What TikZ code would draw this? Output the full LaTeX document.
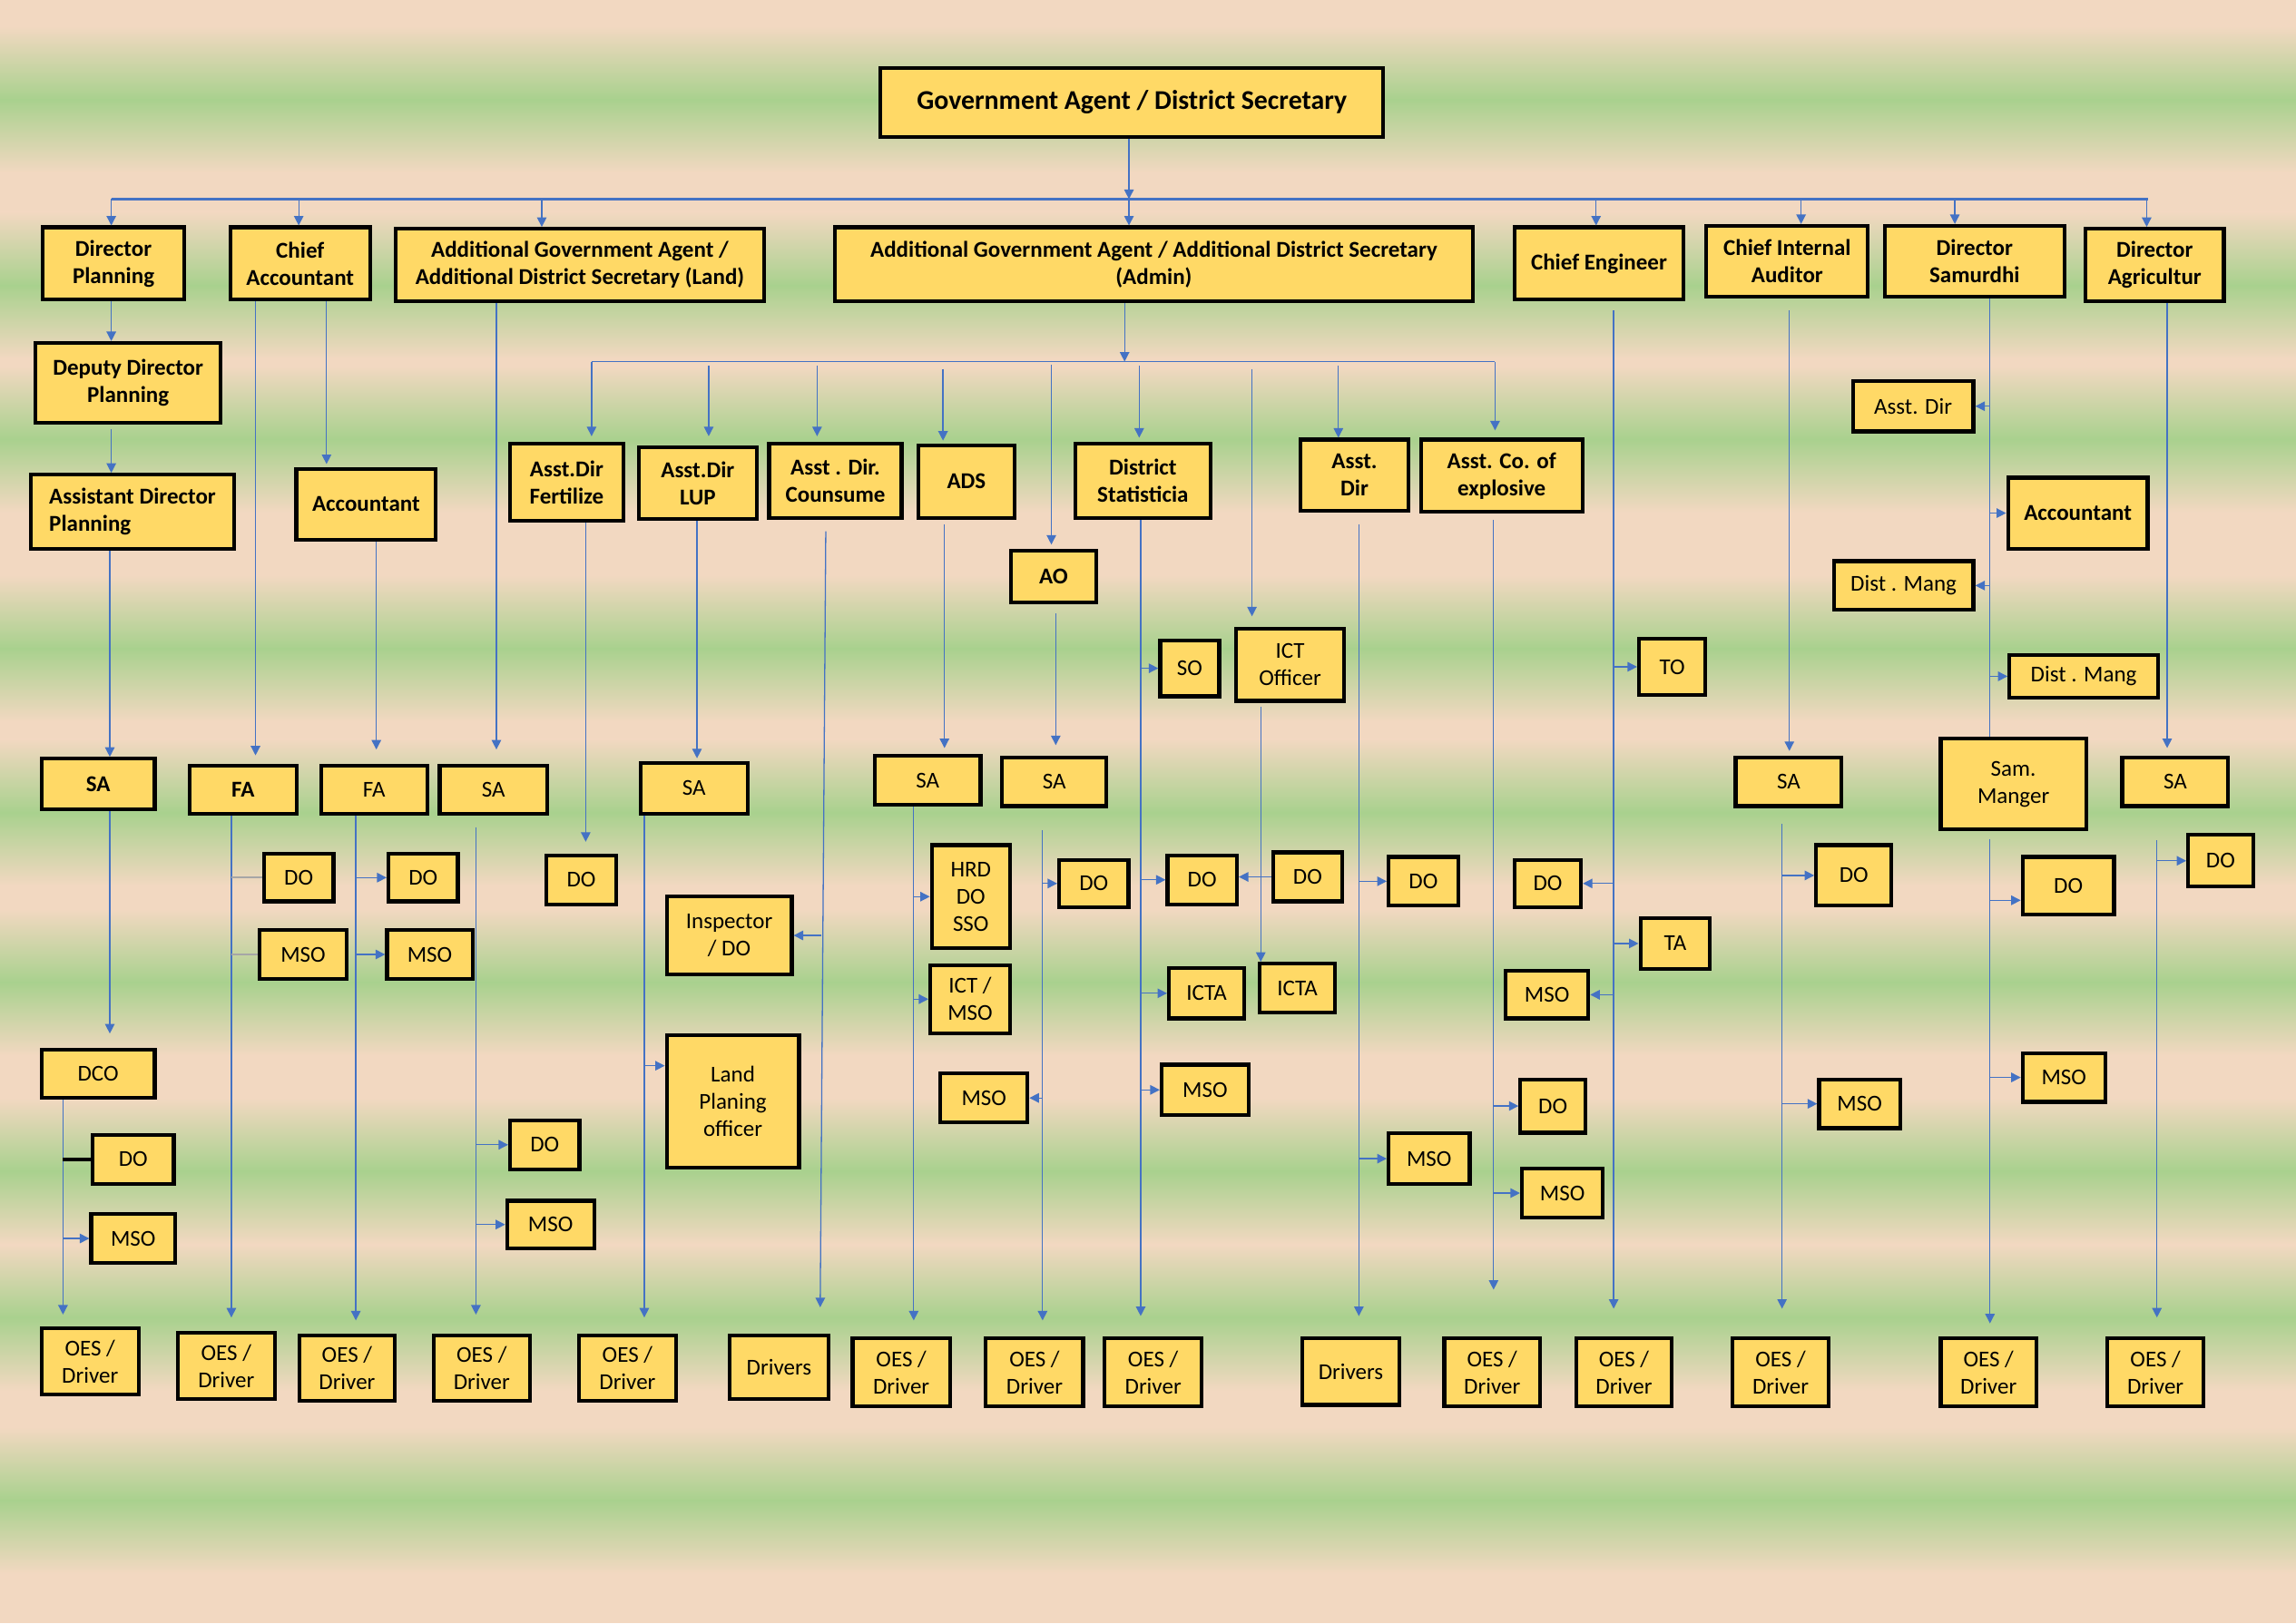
\documentclass[tikz,border=0pt]{standalone}
\usepackage{fontspec}
\setmainfont{Carlito}
\usetikzlibrary{arrows.meta}
\definecolor{peach}{HTML}{F2D8C1}
\definecolor{leaf}{HTML}{A9D18E}
\definecolor{boxfill}{HTML}{FFD966}
\definecolor{lineblue}{HTML}{4472C4}
\definecolor{greyline}{HTML}{A6A6A6}
\newcommand\bx[7]{\node[#6, minimum width={(#4)-(#2)-2.6}, minimum height={(#5)-(#3)-2.6}] (#1) at ({((#2)+(#4))/2},{((#3)+(#5))/2}) {#7};}
\tikzset{
  box/.style={draw=black, line width=2.6pt, fill=boxfill, inner sep=1pt, align=center, font=\fontsize{15.5}{18.6}\selectfont},
  bbox/.style={box, font=\fontsize{15.5}{18.6}\selectfont\bfseries},
  gabox/.style={box, font=\fontsize{18.5}{22}\selectfont\bfseries},
  ln/.style={draw=lineblue, line width=0.8pt},
  arr/.style={ln, -{Triangle[length=6.5pt,width=6.5pt]}},
  greyln/.style={draw=greyline, line width=1.3pt},
  blackln/.style={draw=black, line width=2.6pt}
}
\begin{document}
\begin{tikzpicture}[x=1pt,y=-1pt]
\useasboundingbox (0,0) rectangle (1568,1109);
% background stripes
\fill[peach] (0,0) rectangle (1568,1109);
\foreach \c in {68,195,300,443,555,671,800,900,1025} {
  \shade[top color=peach,bottom color=leaf] (0,\c-50) rectangle (1568,\c);
  \shade[top color=leaf,bottom color=peach] (0,\c) rectangle (1568,\c+50);
}
% ---------- nodes ----------
\bx{ga}{600}{45}{946}{95}{gabox}{Government Agent / District Secretary}
\bx{dp}{28}{154}{127}{206}{bbox}{Director\\Planning}
\bx{ca}{156}{154}{254}{206}{bbox}{Chief\\Accountant}
\bx{agal}{269}{155}{523}{207}{bbox}{Additional Government Agent /\\Additional District Secretary (Land)}
\bx{agaa}{569}{154}{1007}{207}{bbox}{Additional Government Agent / Additional District Secretary\\(Admin)}
\bx{ce}{1033}{154}{1151}{206}{bbox}{Chief Engineer}
\bx{cia}{1164}{153}{1277}{204}{bbox}{Chief Internal\\Auditor}
\bx{dsam}{1286}{153}{1411}{204}{bbox}{Director\\Samurdhi}
\bx{dag}{1423}{155}{1520}{207}{bbox}{Director\\Agricultur}
\bx{ddp}{23}{233}{152}{290}{bbox}{Deputy Director\\Planning}
\bx{adp}{20}{323}{161}{376}{bbox,align=left}{Assistant Director\\Planning}
\bx{acc1}{201}{319}{299}{370}{bbox}{Accountant}
\bx{fert}{347}{302}{427}{357}{bbox}{Asst.Dir\\Fertilize}
\bx{lup}{435}{304}{518}{356}{bbox}{Asst.Dir\\LUP}
\bx{cns}{524}{302}{617}{355}{bbox}{Asst . Dir.\\Counsume}
\bx{ads}{626}{303}{694}{355}{bbox}{ADS}
\bx{dst}{733}{302}{828}{355}{bbox}{District\\Statisticia}
\bx{asd}{887}{299}{963}{350}{bbox}{Asst.\\Dir}
\bx{aco}{969}{299}{1082}{351}{bbox}{Asst. Co. of\\explosive}
\bx{ao}{689}{375}{750}{413}{bbox}{AO}
\bx{so}{791}{436}{834}{477}{box}{SO}
\bx{icto}{843}{428}{919}{480}{box}{ICT\\Officer}
\bx{to}{1118}{435}{1166}{476}{box}{TO}
\bx{sasd}{1264}{259}{1349}{296}{box}{Asst. Dir}
\bx{sacc}{1370}{325}{1468}{376}{bbox}{Accountant}
\bx{sdma}{1251}{382}{1349}{418}{box}{Dist . Mang}
\bx{sdmb}{1371}{446}{1475}{478}{box}{Dist . Mang}
% SA row
\bx{saa}{27}{517}{107}{554}{bbox}{SA}
\bx{faa}{128}{522}{204}{557}{bbox}{FA}
\bx{fab}{218}{522}{293}{557}{box}{FA}
\bx{sab}{299}{522}{375}{557}{box}{SA}
\bx{sac}{436}{520}{512}{557}{box}{SA}
\bx{sad}{596}{515}{671}{551}{box}{SA}
\bx{sae}{683}{516}{757}{552}{box}{SA}
\bx{saf}{1184}{516}{1259}{552}{box}{SA}
\bx{samm}{1324}{503}{1426}{568}{box}{Sam.\\Manger}
\bx{sag}{1448}{516}{1523}{552}{box}{SA}
% lower boxes
\bx{doa}{179}{582}{229}{617}{box}{DO}
\bx{msoa}{176}{634}{238}{670}{box}{MSO}
\bx{dob}{264}{582}{314}{617}{box}{DO}
\bx{msob}{263}{634}{324}{670}{box}{MSO}
\bx{doc}{372}{583}{422}{619}{box}{DO}
\bx{insp}{454}{611}{542}{667}{box}{Inspector\\/ DO}
\bx{lpo}{454}{706}{547}{799}{box}{Land\\Planing\\officer}
\bx{hrd}{635}{576}{691}{649}{box}{HRD\\DO\\SSO}
\bx{ictm}{634}{658}{691}{707}{box}{ICT /\\MSO}
\bx{dod}{722}{586}{772}{621}{box}{DO}
\bx{msoc}{641}{732}{703}{768}{box}{MSO}
\bx{doe}{796}{583}{846}{619}{box}{DO}
\bx{dof}{868}{581}{918}{617}{box}{DO}
\bx{ictaa}{797}{660}{851}{697}{box}{ICTA}
\bx{ictab}{859}{657}{913}{693}{box}{ICTA}
\bx{msod}{792}{726}{854}{763}{box}{MSO}
\bx{dog}{947}{584}{997}{620}{box}{DO}
\bx{msoe}{947}{773}{1005}{810}{box}{MSO}
\bx{doh}{1037}{736}{1084}{775}{box}{DO}
\bx{msof}{1038}{797}{1096}{833}{box}{MSO}
\bx{doi}{1033}{586}{1081}{621}{box}{DO}
\bx{ta}{1119}{626}{1169}{663}{box}{TA}
\bx{msog}{1027}{662}{1086}{697}{box}{MSO}
\bx{doj}{1239}{576}{1293}{620}{box}{DO}
\bx{msoh}{1241}{736}{1299}{772}{box}{MSO}
\bx{dok}{1380}{584}{1445}{626}{box}{DO}
\bx{msoi}{1380}{718}{1439}{754}{box}{MSO}
\bx{dol}{1493}{569}{1540}{607}{box}{DO}
\bx{dco}{27}{716}{107}{751}{box}{DCO}
\bx{dom}{62}{774}{120}{810}{box}{DO}
\bx{msoj}{61}{828}{121}{864}{box}{MSO}
\bx{don}{347}{764}{397}{800}{box}{DO}
\bx{msok}{345}{819}{407}{854}{box}{MSO}
% bottom row
\bx{oesa}{27}{906}{96}{954}{box}{OES /\\Driver}
\bx{oesb}{120}{909}{189}{957}{box}{OES /\\Driver}
\bx{oesc}{203}{911}{271}{958}{box}{OES /\\Driver}
\bx{oesd}{295}{911}{363}{958}{box}{OES /\\Driver}
\bx{oese}{394}{911}{463}{958}{box}{OES /\\Driver}
\bx{drva}{497}{911}{567}{957}{box}{Drivers}
\bx{oesf}{581}{913}{650}{962}{box}{OES /\\Driver}
\bx{oesg}{672}{913}{741}{962}{box}{OES /\\Driver}
\bx{oesh}{753}{913}{822}{962}{box}{OES /\\Driver}
\bx{drvb}{888}{913}{957}{961}{box}{Drivers}
\bx{oesi}{985}{913}{1053}{962}{box}{OES /\\Driver}
\bx{oesj}{1075}{913}{1143}{962}{box}{OES /\\Driver}
\bx{oesk}{1182}{913}{1250}{962}{box}{OES /\\Driver}
\bx{oesl}{1324}{913}{1392}{962}{box}{OES /\\Driver}
\bx{oesm}{1438}{913}{1506}{962}{box}{OES /\\Driver}
% ---------- connectors ----------
\coordinate (busL) at (76,136);
\coordinate (busR) at (1467,136);
\draw[ln, line width=1.6pt] (busL) -- (busR);
\draw[arr] (771,0 |- ga.south) -- (771,0 |- busL);
\foreach \xx/\nn in {76/dp,204/ca,370/agal,771/agaa,1090/ce,1230/cia,1335/dsam,1466/dag}
  \draw[arr] (\xx,0 |- busL) -- (\xx,0 |- \nn.north);
% Director Planning chain
\draw[arr] (76,0 |- dp.south) -- (76,0 |- ddp.north);
\draw[arr,shorten <=3pt] (76,0 |- ddp.south) -- (76,0 |- adp.north);
\draw[arr] (75,0 |- adp.south) -- (75,0 |- saa.north);
\draw[arr,shorten >=10pt] (75,0 |- saa.south) -- (75,0 |- dco.north);
\draw[arr,shorten >=8pt] (43,0 |- dco.south) -- (43,0 |- oesa.north);
\draw[blackln] (43,0 |- dom.west) -- (dom.west);
\draw[arr] (43,0 |- msoj.west) -- (msoj.west);
% Chief Accountant
\draw[arr,shorten >=6pt] (174.5,0 |- ca.south) -- (174.5,0 |- faa.north);
\draw[arr,shorten >=2pt] (223,0 |- ca.south) -- (223,0 |- acc1.north);
\draw[arr,shorten >=10pt] (257,0 |- acc1.south) -- (257,0 |- fab.north);
\draw[arr,shorten >=9pt] (158,0 |- faa.south) -- (158,0 |- oesb.north);
\draw[greyln] (158,0 |- doa.west) -- (doa.west);
\draw[greyln] (158,0 |- msoa.west) -- (msoa.west);
\draw[arr,shorten >=9pt] (243,0 |- fab.south) -- (243,0 |- oesc.north);
\draw[arr] (243,0 |- dob.west) -- (dob.west);
\draw[arr] (243,0 |- msob.west) -- (msob.west);
% AGA Land
\draw[arr,shorten >=10pt] (339,0 |- agal.south) -- (339,0 |- sab.north);
\draw[arr,shorten <=8pt,shorten >=13pt] (325,0 |- sab.south) -- (325,0 |- oesd.north);
\draw[arr] (325,0 |- don.west) -- (don.west);
\draw[arr] (325,0 |- msok.west) -- (msok.west);
% AGA Admin bus
\coordinate (bustL) at (404,247);
\coordinate (bustR) at (1021,247);
\draw[arr] (768,0 |- agaa.south) -- (768,0 |- bustL);
\draw[ln] (bustL) -- (bustR);
\draw[arr,shorten >=4pt] (bustL) -- (404,0 |- fert.north);
\draw[arr,shorten <=3pt,shorten >=6pt] (484,0 |- bustL) -- (484,0 |- lup.north);
\draw[arr,shorten <=3pt,shorten >=4pt] (558,0 |- bustL) -- (558,0 |- cns.north);
\draw[arr,shorten <=5pt,shorten >=2pt] (644,0 |- bustL) -- (644,0 |- ads.north);
\draw[arr,shorten <=2pt,shorten >=3pt] (718,0 |- bustL) -- (718,0 |- ao.north);
\draw[arr,shorten <=3pt,shorten >=3pt] (778,0 |- bustL) -- (778,0 |- dst.north);
\draw[arr,shorten <=5pt,shorten >=7pt] (855,0 |- bustL) -- (855,0 |- icto.north);
\draw[arr,shorten <=3pt] (914,0 |- bustL) -- (914,0 |- asd.north);
\draw[arr,shorten >=5pt] (bustR) -- (1021,0 |- aco.north);
% Fertilize, LUP
\draw[arr,shorten >=8pt] (400,0 |- fert.south) -- (400,0 |- doc.north);
\draw[arr,shorten >=2pt] (476,0 |- lup.south) -- (476,0 |- sac.north);
\draw[arr,shorten >=11pt] (440,0 |- sac.south) -- (440,0 |- oese.north);
\coordinate (lpoin) at ([yshift=-22pt]lpo.north west);
\draw[arr] (440,0 |- lpoin) -- (lpoin);
% Counsume
\draw[arr,shorten <=8pt,shorten >=18pt] (564,0 |- cns.south) -- (560,0 |- drva.north);
\draw[arr] (561,0 |- insp.east) -- (insp.east);
% ADS
\draw[arr,shorten <=3pt,shorten >=4pt] (645,0 |- ads.south) -- (645,0 |- sad.north);
\draw[arr,shorten >=11pt] (624,0 |- sad.south) -- (624,0 |- oesf.north);
\draw[arr] (624,0 |- hrd.west) -- (hrd.west);
\draw[arr] (624,0 |- ictm.west) -- (ictm.west);
% AO
\draw[arr,shorten <=6pt,shorten >=7pt] (721,0 |- ao.south) -- (721,0 |- sae.north);
\draw[arr,shorten <=15pt,shorten >=11pt] (712,0 |- sae.south) -- (712,0 |- oesg.north);
\draw[arr] (712,0 |- dod.west) -- (dod.west);
\draw[arr] (712,0 |- msoc.east) -- (msoc.east);
% District Statistician
\draw[arr,shorten >=14pt] (779,0 |- dst.south) -- (779,0 |- oesh.north);
\draw[arr] (779,0 |- so.west) -- (so.west);
\draw[arr] (779,0 |- doe.west) -- (doe.west);
\draw[arr] (779,0 |- ictaa.west) -- (ictaa.west);
\draw[arr] (779,0 |- msod.west) -- (msod.west);
% ICT officer
\draw[arr,shorten <=3pt] (861,0 |- icto.south) -- (861,0 |- ictab.north);
\draw[arr] (dof.west) -- (dof.west -| doe.east);
% Asst Dir
\draw[arr,shorten <=8pt,shorten >=14pt] (928,0 |- asd.south) -- (928,0 |- drvb.north);
\draw[arr] (928,0 |- dog.west) -- (dog.west);
\draw[arr] (928,0 |- msoe.west) -- (msoe.west);
% Asst Co explosive
\draw[arr,shorten <=4pt,shorten >=32pt] (1020,0 |- aco.south) -- (1020,0 |- oesi.north);
\draw[arr] (1020,0 |- doh.west) -- (doh.west);
\draw[arr] (1020,0 |- msof.west) -- (msof.west);
% Chief Engineer
\draw[arr,shorten <=6pt,shorten >=19pt] (1102,0 |- ce.south) -- (1102,0 |- oesj.north);
\draw[arr] (1102,0 |- to.west) -- (to.west);
\draw[arr] (1102,0 |- ta.west) -- (ta.west);
\draw[arr] (1102,0 |- doi.east) -- (doi.east);
\draw[arr] (1102,0 |- msog.east) -- (msog.east);
% Chief Internal Auditor
\draw[arr,shorten <=8pt,shorten >=3pt] (1222,0 |- cia.south) -- (1222,0 |- saf.north);
\draw[arr,shorten <=11pt,shorten >=19pt] (1217,0 |- saf.south) -- (1217,0 |- oesk.north);
\draw[arr] (1217,0 |- doj.west) -- (doj.west);
\draw[arr] (1217,0 |- msoh.west) -- (msoh.west);
% Director Samurdhi
\draw[ln] (1359,0 |- dsam.south) -- (1359,0 |- samm.north);
\draw[arr] (1359,0 |- sasd.east) -- (sasd.east);
\draw[arr] (1359,0 |- sacc.west) -- (sacc.west);
\draw[arr] (1359,0 |- sdma.east) -- (sdma.east);
\draw[arr] (1359,0 |- sdmb.west) -- (sdmb.west);
\draw[arr,shorten <=5pt,shorten >=9pt] (1359,0 |- samm.south) -- (1359,0 |- oesl.north);
\coordinate (dokin) at ([yshift=-31pt]dok.north west);
\draw[arr] (1359,0 |- dokin) -- (dokin);
\draw[arr] (1359,0 |- msoi.west) -- (msoi.west);
% Director Agriculture
\draw[arr,shorten >=5pt] (1480,0 |- dag.south) -- (1480,0 |- sag.north);
\draw[arr,shorten <=22pt,shorten >=13pt] (1473,0 |- sag.south) -- (1473,0 |- oesm.north);
\draw[arr] (1473,0 |- dol.west) -- (dol.west);
\end{tikzpicture}
\end{document}
